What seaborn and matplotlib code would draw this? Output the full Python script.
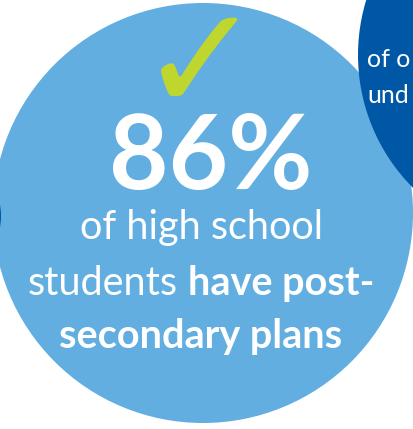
import matplotlib
matplotlib.use("Agg")
import matplotlib.pyplot as plt
from matplotlib.patches import Circle
import seaborn as sns

# values shown in the graphic
stat_value = 86
line_1 = [("of high school", "normal")]
line_2 = [("students", "normal"), ("have post-", "bold")]
line_3 = [("secondary plans", "bold")]
side_lines = ["of o", "und"]

light_blue = "#62AEE0"
dark_blue = "#0057A5"
green = "#BFD62F"

sns.set_theme(style="white")
plt.rcParams['font.family'] = ['Lato', 'DejaVu Sans']

W, H = 413, 429
fig = plt.figure(figsize=(W / 100, H / 100), dpi=100)
ax = fig.add_axes([0, 0, 1, 1])
ax.set_xlim(0, W)
ax.set_ylim(H, 0)
ax.set_aspect('equal')
ax.axis('off')

# circles
ax.add_patch(Circle((203, 213), 210, color=light_blue, lw=0, zorder=1))
ax.add_patch(Circle((546, 55), 188, color=dark_blue, lw=0, zorder=2))
ax.add_patch(Circle((-63, 216), 64, color=dark_blue, lw=0, zorder=2))

# check mark
ax.text(201, 69, "\u2713", family='DejaVu Sans', fontweight='bold', fontsize=106,
        color=green, ha='center', va='center', zorder=3)

# big number
ax.text(211, 189, f"{stat_value}%", fontsize=74, fontweight='bold', color='white',
        ha='center', va='baseline', zorder=3)

renderer = fig.canvas.get_renderer()


def draw_line(parts, y, cx=201, size=28.5, gap=10):
    texts = []
    widths = []
    for s, w in parts:
        t = ax.text(0, y, s, fontsize=size, fontweight=w, color='white',
                    ha='left', va='baseline', zorder=3)
        bb = t.get_window_extent(renderer=renderer)
        texts.append(t)
        widths.append(bb.width)
    total = sum(widths) + gap * (len(parts) - 1)
    x = cx - total / 2
    for t, wd in zip(texts, widths):
        t.set_x(x)
        x += wd + gap


draw_line(line_1, 239)
draw_line(line_2, 295)
draw_line(line_3, 348)

# text on the dark circle, cut by the edge
for s, y in zip(side_lines, [67, 103]):
    ax.text(367, y, s, fontsize=18, color='white', ha='left', va='baseline', zorder=3)

fig.savefig("out.png", dpi=100, facecolor='white')
